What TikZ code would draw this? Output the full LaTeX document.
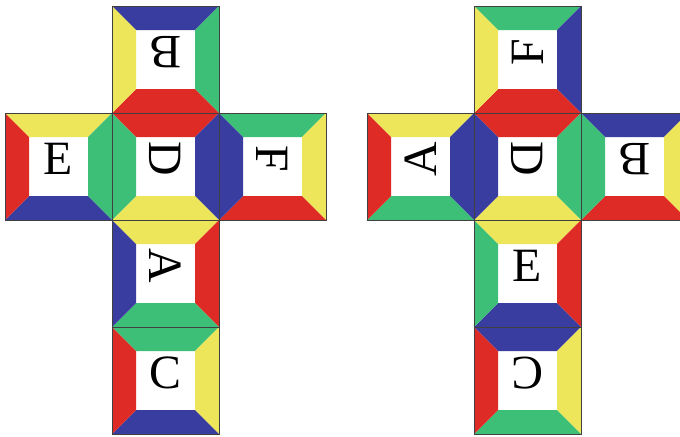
\documentclass[tikz,border=0pt]{standalone}
\usepackage{fontspec}
\setmainfont{Liberation Serif}
\usepackage{tikz}
\usetikzlibrary{positioning}
\definecolor{facered}{HTML}{DE2B26}
\definecolor{faceblue}{HTML}{3A3DA0}
\definecolor{facegreen}{HTML}{3DBF78}
\definecolor{faceyellow}{HTML}{EDE65A}

% one face of the net: x, y, top, right, bottom, left, letter, rotation, name
\newcommand{\netface}[9]{%
  \begin{scope}[shift={(#1,#2)}]
    \fill[#3] (0,0) -- (107,0) -- (83,24) -- (24,24) -- cycle;
    \fill[#4] (107,0) -- (107,107) -- (83,83) -- (83,24) -- cycle;
    \fill[#5] (0,107) -- (107,107) -- (83,83) -- (24,83) -- cycle;
    \fill[#6] (0,0) -- (0,107) -- (24,83) -- (24,24) -- cycle;
    \draw[faceedge] (0,0) rectangle (107,107);
    \node[letter,rotate=#8] (#9) at (53.5,46) {#7};
  \end{scope}}

\begin{document}
\begin{tikzpicture}[
  x=0.025cm, y=-0.025cm,
  faceedge/.style={draw=black!75,line width=0.6pt},
  letter/.style={font=\fontsize{34}{34}\selectfont,inner sep=0pt}
]
\useasboundingbox (0,0) rectangle (680,436);
\clip (0,0) rectangle (680,436);
% left net
\netface{112}{6}{faceblue}{facegreen}{facered}{faceyellow}{B}{180}{lB}
\netface{5}{113}{faceyellow}{facegreen}{faceblue}{facered}{E}{0}{lE}
\netface{112}{113}{facered}{faceblue}{faceyellow}{facegreen}{D}{-90}{lD}
\netface{219}{113}{facegreen}{faceyellow}{facered}{faceblue}{F}{-90}{lF}
\netface{112}{220}{faceyellow}{facered}{facegreen}{faceblue}{A}{-90}{lA}
\netface{112}{327}{facegreen}{faceyellow}{faceblue}{facered}{C}{0}{lC}
% right net
\netface{474}{6}{facegreen}{faceblue}{facered}{faceyellow}{F}{90}{rF}
\netface{367}{113}{faceyellow}{faceblue}{facegreen}{facered}{A}{90}{rA}
\netface{474}{113}{facered}{facegreen}{faceyellow}{faceblue}{D}{-90}{rD}
\netface{581}{113}{faceblue}{faceyellow}{facered}{facegreen}{B}{180}{rB}
\netface{474}{220}{faceyellow}{facered}{faceblue}{facegreen}{E}{0}{rE}
\netface{474}{327}{faceblue}{faceyellow}{facegreen}{facered}{C}{180}{rC}
\end{tikzpicture}
\end{document}
